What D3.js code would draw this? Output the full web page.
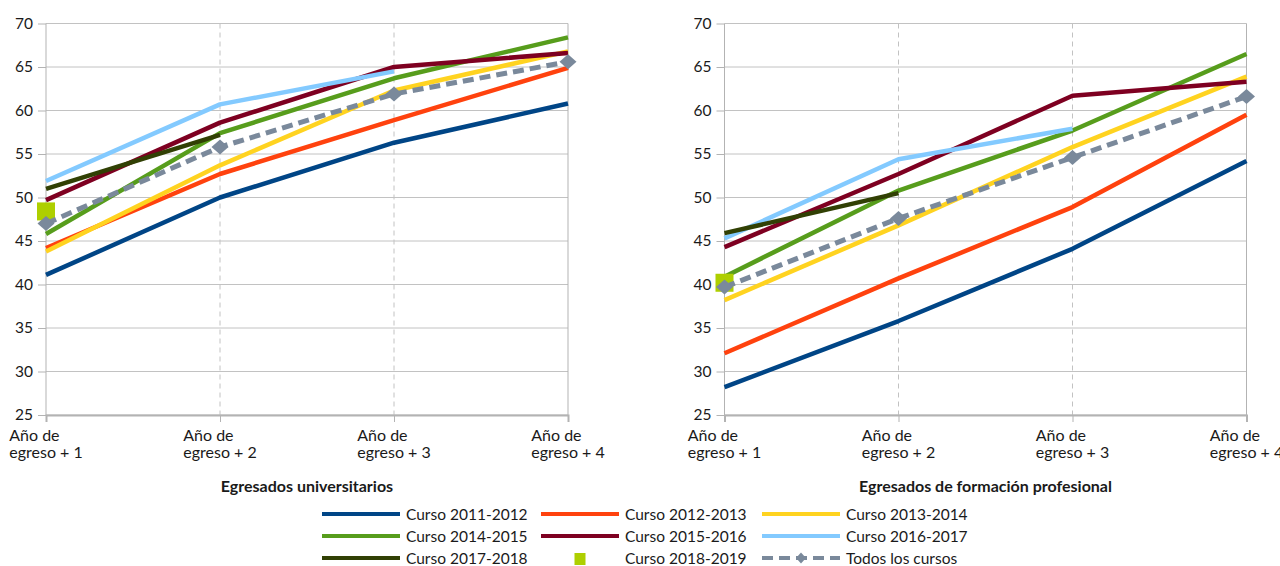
<!DOCTYPE html>
<html>
<head>
<meta charset="utf-8">
<script src="https://cdn.jsdelivr.net/npm/d3@7"></script>
<style>
  body { margin: 0; background: #fff; }
  text { font-family: Lato, "Liberation Sans", sans-serif; fill: #1a1a1a; }
</style>
</head>
<body>
<div id="chart"></div>
<script>
// Categories (two-line tick labels)
const categories = [
  ["Año de", "egreso + 1"],
  ["Año de", "egreso + 2"],
  ["Año de", "egreso + 3"],
  ["Año de", "egreso + 4"]
];
const yTicks = [25, 30, 35, 40, 45, 50, 55, 60, 65, 70];

const courses = [
  "Curso 2011-2012", "Curso 2012-2013", "Curso 2013-2014",
  "Curso 2014-2015", "Curso 2015-2016", "Curso 2016-2017",
  "Curso 2017-2018", "Curso 2018-2019", "Todos los cursos"
];

// Egresados universitarios, one row per course
const universitarios = [
  [41.1, 50.0, 56.3, 60.8],
  [44.2, 52.7, 58.9, 64.9],
  [43.8, 53.7, 62.3, 66.8],
  [45.8, 57.4, 63.7, 68.4],
  [49.7, 58.6, 65.0, 66.6],
  [51.9, 60.7, 64.5, null],
  [51.0, 57.2, null, null],
  [48.4, null, null, null],
  [47.0, 55.8, 61.9, 65.6]
];

// Egresados de formación profesional
const formacionProfesional = [
  [28.2, 35.8, 44.1, 54.2],
  [32.1, 40.7, 48.9, 59.5],
  [38.2, 46.8, 55.8, 63.9],
  [40.9, 50.8, 57.7, 66.5],
  [44.3, 52.7, 61.7, 63.3],
  [45.3, 54.4, 57.9, null],
  [45.9, 50.5, null, null],
  [40.2, null, null, null],
  [39.7, 47.6, 54.6, 61.6]
];

const colors = ["#004586", "#ff420e", "#ffd320", "#579d1c", "#7e0021",
                "#83caff", "#314004", "#aecf00", "#7a899b"];

const plotW = 522;
const plotTop = 23.5, plotBottom = 415;
const gridColor = "#c2c2c2";

const svg = d3.select("#chart").append("svg")
  .attr("width", 1280)
  .attr("height", 566);

const y = d3.scaleLinear().domain([25, 70]).range([plotBottom, plotTop]);
const x = d3.scalePoint().domain(d3.range(categories.length)).range([0, plotW]);

const line = d3.line()
  .defined(d => d != null)
  .x((d, i) => x(i))
  .y(d => y(d));

const diamond = "M0,-7.5L8.5,0L0,7.5L-8.5,0Z";

function drawPanel(left, title, data) {
  const g = svg.append("g").attr("transform", `translate(${left},0)`);

  // horizontal gridlines
  g.selectAll(".hgrid").data(yTicks).join("line")
    .attr("x1", 0).attr("x2", plotW)
    .attr("y1", d => y(d)).attr("y2", d => y(d))
    .attr("stroke", gridColor).attr("stroke-width", 1);

  // vertical dashed gridlines at inner categories
  g.selectAll(".vgrid").data([1, 2]).join("line")
    .attr("x1", d => x(d)).attr("x2", d => x(d))
    .attr("y1", plotTop).attr("y2", plotBottom)
    .attr("stroke", gridColor).attr("stroke-dasharray", "5,4");

  // right border
  g.append("line")
    .attr("x1", plotW).attr("x2", plotW)
    .attr("y1", plotTop).attr("y2", plotBottom)
    .attr("stroke", "#b3b3b3");

  // Y axis
  const ya = g.append("g")
    .call(d3.axisLeft(y).tickValues(yTicks).tickSize(8).tickPadding(5));
  ya.select(".domain").remove();
  ya.append("line").attr("y1", plotTop).attr("y2", plotBottom).attr("stroke", "#b3b3b3");
  ya.selectAll(".tick line").attr("stroke", "#b3b3b3");
  ya.selectAll(".tick text").style("font-size", "15.5px").attr("fill", "#1a1a1a");

  // X axis
  const xa = g.append("g")
    .attr("transform", `translate(0,${plotBottom})`)
    .call(d3.axisBottom(x).tickSize(7).tickFormat(""));
  xa.select(".domain").attr("stroke", "#b3b3b3").attr("stroke-width", 2);
  xa.selectAll(".tick line").attr("stroke", "#b3b3b3");

  categories.forEach((lines, i) => {
    const t = g.append("text")
      .attr("y", 441)
      .style("font-size", "16px");
    lines.forEach((l, k) => {
      t.append("tspan").attr("x", 0).attr("dy", k ? 17 : 0).text(l);
    });
    const w = t.node().getBBox().width;
    t.selectAll("tspan").attr("x", x(i) - w / 2);
  });

  // series
  data.forEach((vals, s) => {
    const pts = vals.filter(v => v != null);
    const isAll = s === data.length - 1;
    if (pts.length > 1) {
      g.append("path")
        .datum(vals)
        .attr("d", line)
        .attr("fill", "none")
        .attr("stroke", colors[s])
        .attr("stroke-width", isAll ? 5 : 4.5)
        .attr("stroke-dasharray", isAll ? "11,6" : null)
        .attr("stroke-linejoin", "round");
    }
    if (isAll) {
      g.selectAll(".dm").data(vals).join("path")
        .attr("transform", (d, i) => `translate(${x(i)},${y(d)})`)
        .attr("d", diamond)
        .attr("fill", colors[s]);
    } else if (pts.length === 1) {
      g.append("rect")
        .attr("x", x(0) - 9).attr("y", y(vals[0]) - 9)
        .attr("width", 18).attr("height", 18)
        .attr("fill", colors[s]);
    }
  });

  g.append("text")
    .attr("x", plotW / 2).attr("y", 492)
    .attr("text-anchor", "middle")
    .style("font-size", "16px").style("font-weight", "bold")
    .text(title);
}

drawPanel(46, "Egresados universitarios", universitarios);
drawPanel(724.5, "Egresados de formación profesional", formacionProfesional);

// Legend
const colX = [322, 541, 762];
const rowY = [514, 536, 558];
const legend = svg.append("g");
courses.forEach((name, i) => {
  const cx = colX[i % 3], cy = rowY[Math.floor(i / 3)];
  const item = legend.append("g").attr("transform", `translate(${cx},${cy})`);
  if (i === 7) {
    item.append("rect").attr("x", 33.5).attr("y", -5).attr("width", 11).attr("height", 12)
      .attr("fill", colors[i]);
  } else if (i === 8) {
    item.append("line").attr("x1", 0).attr("x2", 78)
      .attr("stroke", colors[i]).attr("stroke-width", 4).attr("stroke-dasharray", "11,6");
    item.append("path").attr("transform", "translate(39,0)")
      .attr("d", "M0,-5.5L5,0L0,5.5L-5,0Z").attr("fill", colors[i]);
  } else {
    item.append("line").attr("x1", 0).attr("x2", 78)
      .attr("stroke", colors[i]).attr("stroke-width", 4);
  }
  item.append("text").attr("x", 84).attr("y", 5.5)
    .style("font-size", "15.5px")
    .text(name);
});
</script>
</body>
</html>
